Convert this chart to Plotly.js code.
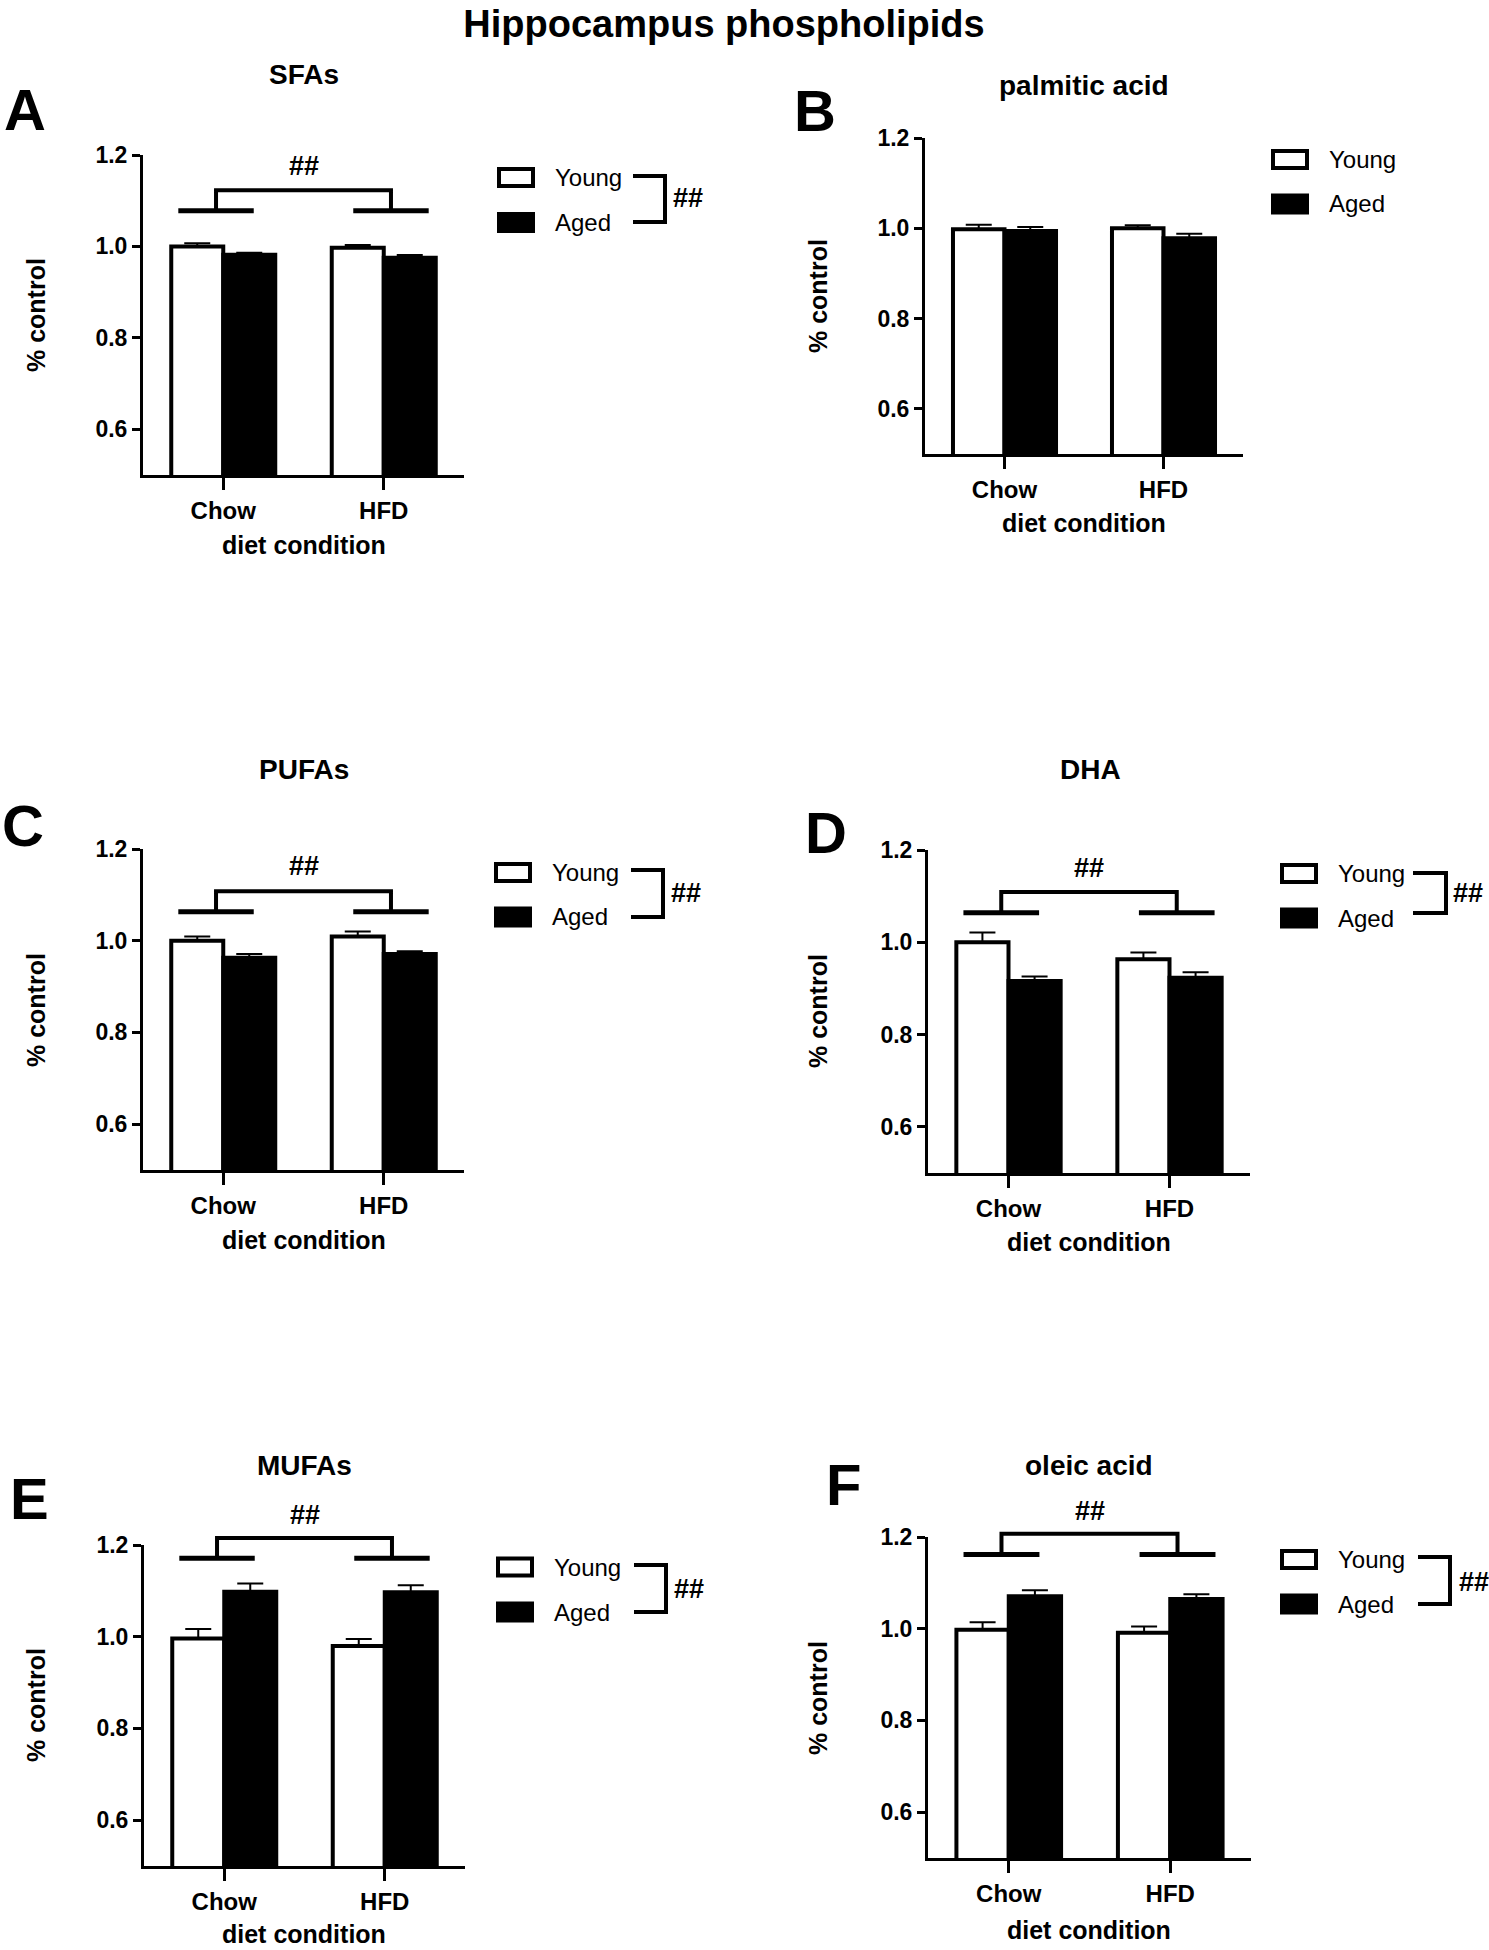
<!DOCTYPE html>
<html><head><meta charset="utf-8">
<script src="https://cdn.plot.ly/plotly-3.0.1.min.js"></script>
<style>html,body{margin:0;padding:0;background:#fff;}#chart{width:1489px;height:1950px;}</style>
</head><body><div id="chart"></div>
<script>
// ---------- data ----------
const figureTitle = 'Hippocampus phospholipids';
const categories = ['Chow', 'HFD'];
const seriesNames = ['Young', 'Aged'];
const panelLetters = ['A', 'B', 'C', 'D', 'E', 'F'];
const panelTitles = ['SFAs', 'palmitic acid', 'PUFAs', 'DHA', 'MUFAs', 'oleic acid'];
const yAxisLabel = '% control';
const xAxisLabel = 'diet condition';
const yTickVals = [0.6, 0.8, 1.0, 1.2];
const yTickText = ['0.6', '0.8', '1.0', '1.2'];
const sigLabel = '##';

const sfasYoung = [1.000, 0.997];
const sfasYoungErr = [0.007, 0.006];
const sfasAged = [0.982, 0.975];
const sfasAgedErr = [0.004, 0.006];

const palmiticYoung = [0.998, 1.000];
const palmiticYoungErr = [0.010, 0.007];
const palmiticAged = [0.994, 0.978];
const palmiticAgedErr = [0.009, 0.010];

const pufasYoung = [1.000, 1.009];
const pufasYoungErr = [0.009, 0.011];
const pufasAged = [0.963, 0.971];
const pufasAgedErr = [0.008, 0.006];

const dhaYoung = [1.000, 0.963];
const dhaYoungErr = [0.021, 0.015];
const dhaAged = [0.916, 0.923];
const dhaAgedErr = [0.010, 0.012];

const mufasYoung = [0.996, 0.980];
const mufasYoungErr = [0.021, 0.015];
const mufasAged = [1.098, 1.097];
const mufasAgedErr = [0.018, 0.015];

const oleicYoung = [0.998, 0.991];
const oleicYoungErr = [0.016, 0.014];
const oleicAged = [1.071, 1.065];
const oleicAgedErr = [0.013, 0.010];

// significance: diet x age (bracket) and age (legend)
const dietSig = [true, false, true, true, true, true];
const ageSig = [true, false, true, true, true, true];

const youngData = [sfasYoung, palmiticYoung, pufasYoung, dhaYoung, mufasYoung, oleicYoung];
const youngErrData = [sfasYoungErr, palmiticYoungErr, pufasYoungErr, dhaYoungErr, mufasYoungErr, oleicYoungErr];
const agedData = [sfasAged, palmiticAged, pufasAged, dhaAged, mufasAged, oleicAged];
const agedErrData = [sfasAgedErr, palmiticAgedErr, pufasAgedErr, dhaAgedErr, mufasAgedErr, oleicAgedErr];

// ---------- geometry (pixels in the 1489x1950 figure) ----------
const W = 1489, H = 1950;
const geom = [
  {l:143, r:464, t:155, b:475, title:[304,75], letter:[25,109], ylab:[36,315], xlab:[304,545],
   leg:{bx:497, y1:177.5, y2:222.5, tx:553, br:[633,665,176,222], hh:[688,198]}, brk:[1.078,1.123,1.176]},
  {l:925, r:1243, t:138, b:454, title:[1084,86], letter:[815,110], ylab:[818,296], xlab:[1084,523],
   leg:{bx:1271, y1:159.5, y2:204, tx:1327}},
  {l:143, r:464, t:849, b:1170, title:[304,770], letter:[23,825], ylab:[36,1010], xlab:[304,1240],
   leg:{bx:494, y1:872.5, y2:917, tx:550, br:[631,663,870,917], hh:[686,893]}, brk:[1.063,1.108,1.162]},
  {l:928, r:1250, t:850, b:1173, title:[1090,770], letter:[826,832], ylab:[818,1011], xlab:[1089,1242],
   leg:{bx:1280, y1:873.5, y2:918, tx:1336, br:[1413,1446,873,913], hh:[1468,893]}, brk:[1.064,1.109,1.160]},
  {l:144, r:465, t:1545, b:1866, title:[304,1465], letter:[29,1498], ylab:[36,1705], xlab:[304,1934],
   leg:{bx:496, y1:1567, y2:1612, tx:552, br:[634,666,1565,1612], hh:[689,1589]}, brk:[1.171,1.215,1.265]},
  {l:928, r:1251, t:1537, b:1858, title:[1089,1465], letter:[843,1484], ylab:[818,1698], xlab:[1089,1930],
   leg:{bx:1280, y1:1559.5, y2:1604, tx:1336, br:[1418,1450,1557,1604], hh:[1474,1582]}, brk:[1.162,1.207,1.256]}
];
const yRange = [0.5, 1.2];
const FONT = 'Liberation Sans, Arial, Helvetica, sans-serif';
const px = x => x / W;
const py = y => 1 - y / H;

const traces = [];
const shapes = [];
const annotations = [];
const layout = {
  width: W, height: H,
  margin: {l:0, r:0, t:0, b:0},
  paper_bgcolor: '#fff', plot_bgcolor: '#fff',
  showlegend: false,
  bargap: 0.352, bargroupgap: 0, barmode: 'group',
  font: {family: FONT, color: '#000'},
  title: {text: figureTitle, x: px(724), xanchor: 'center', y: py(24), yanchor: 'middle',
          font: {family: FONT, size: 38, weight: 'bold', color: '#000'}}
};

geom.forEach((g, i) => {
  const n = i + 1;
  const xa = n === 1 ? 'x' : 'x' + n;
  const ya = n === 1 ? 'y' : 'y' + n;
  const err = (arr) => ({type: 'data', array: arr, arrayminus: arr.map(() => 0), symmetric: false,
                         color: '#000', thickness: 2, width: 13, visible: true});
  traces.push({type: 'bar', name: seriesNames[0], x: categories, y: youngData[i], xaxis: xa, yaxis: ya,
    marker: {color: '#fff', line: {color: '#000', width: 4}}, error_y: err(youngErrData[i])});
  traces.push({type: 'bar', name: seriesNames[1], x: categories, y: agedData[i], xaxis: xa, yaxis: ya,
    marker: {color: '#000', line: {color: '#000', width: 4}}, error_y: err(agedErrData[i])});

  layout['xaxis' + (n === 1 ? '' : n)] = {
    domain: [px(g.l), px(g.r)], anchor: ya, range: [-0.5, 1.5], type: 'category',
    showline: true, linewidth: 3, linecolor: '#000', ticks: 'outside', ticklen: 12, tickwidth: 3, tickcolor: '#000',
    showgrid: false, zeroline: false, fixedrange: true,
    tickfont: {family: FONT, size: 24, weight: 'bold', color: '#000'}
  };
  layout['yaxis' + (n === 1 ? '' : n)] = {
    domain: [py(g.b), py(g.t)], anchor: xa, range: yRange,
    showline: true, linewidth: 3, linecolor: '#000', ticks: 'outside', ticklen: 8, tickwidth: 3, tickcolor: '#000',
    tickvals: yTickVals, ticktext: yTickText, showgrid: false, zeroline: false, fixedrange: true,
    tickfont: {family: FONT, size: 23, weight: 'bold', color: '#000'}
  };

  const bold = (size) => ({family: FONT, size: size, weight: 'bold', color: '#000'});
  // panel title, letter, axis labels
  annotations.push({text: panelTitles[i], xref: 'paper', yref: 'paper', x: px(g.title[0]), y: py(g.title[1]),
    xanchor: 'center', yanchor: 'middle', showarrow: false, font: bold(28)});
  annotations.push({text: panelLetters[i], xref: 'paper', yref: 'paper', x: px(g.letter[0]), y: py(g.letter[1]),
    xanchor: 'center', yanchor: 'middle', showarrow: false, font: bold(58)});
  annotations.push({text: yAxisLabel, xref: 'paper', yref: 'paper', x: px(g.ylab[0]), y: py(g.ylab[1]),
    xanchor: 'center', yanchor: 'middle', textangle: -90, showarrow: false, font: bold(25)});
  annotations.push({text: xAxisLabel, xref: 'paper', yref: 'paper', x: px(g.xlab[0]), y: py(g.xlab[1]),
    xanchor: 'center', yanchor: 'middle', showarrow: false, font: bold(25)});

  // legend (drawn)
  const L = g.leg;
  shapes.push({type: 'rect', xref: 'paper', yref: 'paper', x0: px(L.bx + 2), x1: px(L.bx + 36),
    y0: py(L.y1 - 8.5), y1: py(L.y1 + 8.5), line: {color: '#000', width: 4}, fillcolor: '#fff'});
  shapes.push({type: 'rect', xref: 'paper', yref: 'paper', x0: px(L.bx), x1: px(L.bx + 38),
    y0: py(L.y2 - 10.5), y1: py(L.y2 + 10.5), line: {color: '#000', width: 0}, fillcolor: '#000'});
  annotations.push({text: seriesNames[0], xref: 'paper', yref: 'paper', x: px(L.tx), y: py(L.y1),
    xanchor: 'left', yanchor: 'middle', showarrow: false, font: {family: FONT, size: 24, color: '#000'}});
  annotations.push({text: seriesNames[1], xref: 'paper', yref: 'paper', x: px(L.tx), y: py(L.y2),
    xanchor: 'left', yanchor: 'middle', showarrow: false, font: {family: FONT, size: 24, color: '#000'}});
  if (ageSig[i] && L.br) {
    const b = L.br;
    shapes.push({type: 'path', xref: 'paper', yref: 'paper',
      path: `M${px(b[0])},${py(b[2])} L${px(b[1])},${py(b[2])} L${px(b[1])},${py(b[3])} L${px(b[0])},${py(b[3])}`,
      line: {color: '#000', width: 4}});
    annotations.push({text: sigLabel, xref: 'paper', yref: 'paper', x: px(L.hh[0]), y: py(L.hh[1]),
      xanchor: 'center', yanchor: 'middle', showarrow: false, font: bold(27)});
  }

  // diet bracket over groups
  if (dietSig[i] && g.brk) {
    const xd = v => (v + 0.5) / 2;
    const yd = v => (v - yRange[0]) / (yRange[1] - yRange[0]);
    const xr = xa + ' domain', yr = ya + ' domain';
    const [lo, hi, hs] = g.brk;
    [[-0.28, 0.19], [0.81, 1.28]].forEach(s => {
      shapes.push({type: 'line', xref: xr, yref: yr, x0: xd(s[0]), x1: xd(s[1]), y0: yd(lo), y1: yd(lo),
        line: {color: '#000', width: 5}});
    });
    shapes.push({type: 'path', xref: xr, yref: yr,
      path: `M${xd(-0.045)},${yd(lo)} L${xd(-0.045)},${yd(hi)} L${xd(1.045)},${yd(hi)} L${xd(1.045)},${yd(lo)}`,
      line: {color: '#000', width: 4}});
    annotations.push({text: sigLabel, xref: xr, yref: yr, x: xd(0.5), y: yd(hs),
      xanchor: 'center', yanchor: 'middle', showarrow: false, font: bold(27)});
  }
});

layout.shapes = shapes;
layout.annotations = annotations;
Plotly.newPlot('chart', traces, layout, {displayModeBar: false, staticPlot: true});
</script>
</body></html>
